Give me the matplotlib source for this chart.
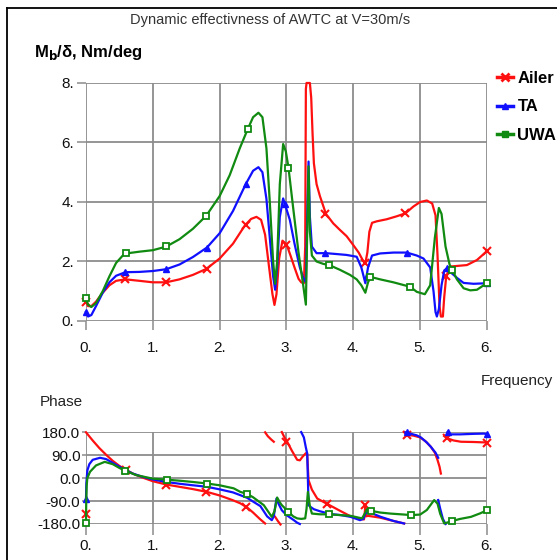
import numpy as np
import matplotlib.pyplot as plt
from matplotlib.lines import Line2D

plt.rcParams['font.family'] = ['Liberation Sans', 'DejaVu Sans']

nan = np.nan

# --- magnitude  Mb/delta  (Nm/deg) vs frequency ---
ailer_f = [0, 0.03, 0.08, 0.15, 0.25, 0.35, 0.45, 0.59, 0.8, 1.0, 1.2, 1.4, 1.6, 1.8, 2.0, 2.2,
           2.38, 2.47, 2.55, 2.62, 2.68, 2.74, 2.79, 2.82, 2.85, 2.89, 2.94, 3.0, 3.06, 3.12,
           3.18, 3.22, 3.26, 3.28, 3.29, 3.3, 3.35, 3.37, 3.39, 3.41, 3.45, 3.5, 3.59, 3.7,
           3.8, 3.9, 4.0, 4.08, 4.14, 4.18, 4.21, 4.24, 4.28, 4.35, 4.5, 4.65, 4.78, 4.9,
           5.0, 5.1, 5.18, 5.23, 5.26, 5.29, 5.31, 5.34, 5.36, 5.39, 5.45, 5.55, 5.7, 5.85, 6.0]
ailer_m = [0.65, 0.5, 0.5, 0.65, 0.95, 1.2, 1.35, 1.4, 1.35, 1.3, 1.3, 1.4, 1.55, 1.75, 2.1, 2.6,
           3.22, 3.43, 3.5, 3.4, 2.9, 1.8, 0.9, 0.54, 0.9, 2.1, 2.7, 2.58, 2.2, 1.8,
           1.42, 1.3, 1.27, 2.5, 7.8, 8.0, 8.0, 7.5, 6.3, 5.3, 4.6, 4.2, 3.6, 3.28,
           3.06, 2.85, 2.55, 2.3, 2.05, 1.94, 2.3, 3.0, 3.3, 3.35, 3.42, 3.52, 3.62, 3.85,
           4.0, 4.05, 3.95, 3.55, 2.2, 0.5, 0.15, 0.15, 0.8, 1.5, 1.83, 1.85, 1.88, 2.05, 2.35]

ta_f = [0, 0.03, 0.08, 0.15, 0.25, 0.35, 0.45, 0.59, 0.8, 1.0, 1.2, 1.4, 1.6, 1.81, 2.0, 2.2,
        2.39, 2.5, 2.58, 2.64, 2.7, 2.75, 2.8, 2.83, 2.86, 2.9, 2.95, 2.98, 3.05, 3.12, 3.2,
        3.25, 3.29, 3.31, 3.33, 3.35, 3.38, 3.45, 3.59, 3.75, 3.9, 4.05, 4.12, 4.18, 4.22,
        4.28, 4.4, 4.6, 4.8, 4.95, 5.05, 5.15, 5.2, 5.23, 5.25, 5.28, 5.32, 5.36, 5.4, 5.45,
        5.55, 5.65, 5.8, 6.0]
ta_m = [0.31, 0.15, 0.2, 0.5, 0.95, 1.3, 1.52, 1.64, 1.65, 1.68, 1.74, 1.9, 2.15, 2.47, 2.95, 3.7,
        4.6, 5.05, 5.17, 5.0, 4.1, 2.8, 1.5, 1.05, 1.8, 3.5, 4.12, 3.9, 3.4, 2.6, 1.8,
        1.45, 1.3, 3.5, 5.36, 3.5, 2.5, 2.28, 2.28, 2.25, 2.22, 2.16, 1.8, 1.27, 1.8,
        2.2, 2.27, 2.3, 2.3, 2.2, 2.1, 1.8, 1.0, 0.3, 0.15, 0.4, 1.2, 1.7, 1.77, 1.65,
        1.45, 1.28, 1.25, 1.27]

uwa_f = [0, 0.03, 0.08, 0.15, 0.25, 0.35, 0.45, 0.55, 0.6, 0.8, 1.0, 1.2, 1.4, 1.6, 1.8, 2.0,
         2.15, 2.3, 2.42, 2.5, 2.58, 2.64, 2.7, 2.75, 2.8, 2.83, 2.86, 2.9, 2.95, 2.99, 3.03,
         3.1, 3.18, 3.25, 3.29, 3.31, 3.33, 3.35, 3.38, 3.45, 3.55, 3.64, 3.8, 3.95, 4.05,
         4.12, 4.18, 4.22, 4.26, 4.4, 4.6, 4.85, 4.95, 5.07, 5.15, 5.22, 5.28, 5.32, 5.38,
         5.44, 5.48, 5.55, 5.65, 5.75, 5.85, 5.95, 6.0]
uwa_m = [0.75, 0.55, 0.47, 0.6, 1.0, 1.5, 1.95, 2.2, 2.27, 2.33, 2.38, 2.5, 2.75, 3.1, 3.54, 4.2,
         4.9, 5.8, 6.45, 6.85, 7.0, 6.85, 5.8, 4.0, 2.0, 1.25, 2.0, 4.6, 5.95, 5.7, 5.15,
         3.8, 2.3, 1.2, 0.55, 3.0, 5.2, 3.0, 2.2, 2.0, 1.92, 1.88, 1.72, 1.55, 1.4,
         1.2, 0.95, 1.3, 1.48, 1.4, 1.3, 1.15, 0.98, 0.9, 1.2, 2.8, 3.8, 3.6, 2.5,
         1.9, 1.72, 1.4, 1.1, 1.03, 1.05, 1.2, 1.29]

# marker points (magnitude)
ailer_mk_f = [0, 0.59, 1.2, 1.81, 2.39, 3.0, 3.58, 4.18, 4.78, 5.39, 6.0]
ailer_mk_m = [0.65, 1.4, 1.31, 1.75, 3.22, 2.55, 3.6, 1.94, 3.62, 1.51, 2.35]
ta_mk_f = [0, 0.59, 1.2, 1.81, 2.39, 2.98, 3.58, 4.2, 4.8, 5.4, 6.0]
ta_mk_m = [0.31, 1.64, 1.74, 2.47, 4.6, 3.92, 2.28, 1.5, 2.3, 1.77, 1.27]
uwa_mk_f = [0, 0.6, 1.2, 1.8, 2.42, 3.03, 3.64, 4.25, 4.85, 5.47, 6.0]
uwa_mk_m = [0.77, 2.28, 2.52, 3.54, 6.45, 5.15, 1.88, 1.49, 1.15, 1.71, 1.29]

# --- phase (deg), nan breaks the wrapped segments ---
ailer_pf = [0, 0.1, 0.2, 0.3, 0.4, 0.5, 0.585, 0.7, 0.85, 1.0, 1.2, 1.4, 1.6, 1.81, 2.0, 2.2,
            2.31, 2.41, 2.5, 2.6, 2.68, nan,
            2.68, 2.72, 2.77, 2.81, nan,
            2.83, 2.87, 2.91, nan,
            2.93, 2.97, 3.01, 3.08, 3.16, 3.2, 3.24, 3.29, 3.31, 3.32, 3.33, 3.38, 3.46, 3.6,
            3.8, 3.96, 4.1, 4.16, 4.17, 4.18, 4.19, 4.22, 4.4, 4.6, 4.76, nan,
            4.76, 4.8, 4.9, 5.0, 5.08, 5.16, 5.22, 5.26, 5.29, 5.31, nan,
            5.36, 5.4, 5.5, 5.61, 5.8, 6.0]
ailer_p = [180, 148, 118, 92, 68, 48, 35, 18, 2, -12, -25, -34, -43, -54, -68, -87,
           -99, -115, -135, -160, -178, nan,
           180, 165, 152, 143, nan,
           -152, -168, -182, nan,
           181, 160, 143, 108, 72, 70, 84, 98, 95, 40, -8, -45, -80, -100,
           -128, -150, -160, -162, -140, -106, -150, -148, -155, -168, -178, nan,
           181, 170, 167, 160, 145, 123, 100, 71, 45, 18, nan,
           165, 157, 148, 143, 142, 140]

ta_pf = [0, 0.005, 0.02, 0.05, 0.1, 0.21, 0.3, 0.4, 0.5, 0.585, 0.7, 0.85, 1.0, 1.2, 1.4, 1.6,
         1.81, 2.0, 2.2, 2.41, 2.5, 2.61, 2.71, 2.78, 2.81, 2.85, 2.88, 2.93, 3.0, 3.11, 3.16,
         3.2, nan,
         3.22, 3.26, 3.29, 3.31, 3.32, 3.33, 3.37, 3.41, 3.5, 3.66, 3.81, 3.96, 4.1, 4.15, 4.18,
         4.22, 4.25, 4.41, 4.6, 4.76, nan,
         4.78, 4.85, 4.95, 5.01, 5.1, 5.16, 5.23, 5.27, nan,
         5.27, 5.3, 5.34, 5.38, nan,
         5.41, 5.45, 5.6, 5.8, 5.96, 6.0]
ta_p = [-80, -20, 30, 55, 72, 80, 75, 60, 45, 33, 18, 5, -5, -15, -22, -28,
        -34, -44, -56, -77, -92, -110, -150, -165, -150, -80, -100, -126, -145, -165, -175,
        -180, nan,
        181, 160, 120, 97, 0, -106, -115, -122, -130, -141, -145, -152, -165, -160, -139,
        -133, -135, -152, -168, -178, nan,
        180, 175, 168, 160, 140, 123, 100, 80, nan,
        -86, -120, -160, -180, nan,
        181, 172, 172, 174, 175, 172]

uwa_pf = [0, 0.003, 0.01, 0.02, 0.06, 0.15, 0.28, 0.4, 0.5, 0.59, 0.75, 1.0, 1.21, 1.4, 1.6,
          1.81, 2.0, 2.21, 2.31, 2.41, 2.5, 2.66, 2.78, 2.82, 2.86, 2.9, 2.93, 3.03, 3.1,
          3.16, 3.22, 3.28, 3.3, 3.32, 3.35, 3.38, 3.5, 3.63, 3.8, 3.96, 4.13, 4.18, 4.2,
          4.26, 4.4, 4.55, 4.87, 5.0, 5.1, 5.21, 5.26, 5.3, 5.36, 5.48, 5.6, 5.76, 5.9, 6.0]
uwa_p = [-178, -100, -30, 0, 25, 50, 64, 55, 40, 29, 12, -2, -6, -10, -15,
         -21, -28, -40, -54, -62, -75, -106, -152, -130, -76, -95, -106, -132, -150,
         -158, -160, -158, -120, -54, -110, -139, -142, -142, -145, -148, -158, -135, -123,
         -128, -135, -139, -145, -143, -125, -86, -100, -140, -178, -168, -160, -152, -138, -126]

# marker points (phase)
ailer_pmk_f = [0, 0.6, 1.2, 1.8, 2.4, 3.0, 3.6, 4.18, 4.8, 5.4, 6.0]
ailer_pmk_p = [-139, 33, -27, -54, -115, 143, -100, -106, 170, 157, 140]
ta_pmk_f = [0, 4.8, 5.41, 6.0]
ta_pmk_p = [-80, 180, 181, 175]
uwa_pmk_f = [0, 0.59, 1.21, 1.81, 2.41, 3.03, 3.63, 4.26, 4.87, 5.48, 6.0]
uwa_pmk_p = [-178, 29, -6, -21, -62, -132, -142, -128, -145, -168, -126]

RED, BLUE, GREEN = '#ff1010', '#1010ff', '#108a10'
GRID = '#8c8c8c'

fig = plt.figure(figsize=(5.57, 5.6), dpi=100)

# grafik magnitudo
ax = fig.add_axes([0.1544, 0.4268, 0.7199, 0.425])
ax.plot(ailer_f, ailer_m, color=RED, lw=1.6, clip_on=False)
ax.plot(ailer_mk_f, ailer_mk_m, ls='none', marker='x', ms=6, mew=1.5, color=RED, clip_on=False)
ax.plot(ta_f, ta_m, color=BLUE, lw=1.6, clip_on=False)
ax.plot(ta_mk_f, ta_mk_m, ls='none', marker='^', ms=5, color=BLUE, clip_on=False)
ax.plot(uwa_f, uwa_m, color=GREEN, lw=1.6, clip_on=False)
ax.plot(uwa_mk_f, uwa_mk_m, ls='none', marker='s', ms=5, mfc='white', mec=GREEN, mew=1.3,
        color=GREEN, clip_on=False)
ax.set_xlim(0, 6)
ax.set_ylim(0, 8)
ax.set_xticks(range(7))
ax.set_xticklabels([f'{i}.' for i in range(7)])
ax.set_yticks([0, 2, 4, 6, 8])
ax.set_yticklabels(['0.', '2.', '4.', '6.', '8.'])
ax.grid(True, color=GRID, lw=1.3)
ax.set_axisbelow(True)
for s in ax.spines.values():
    s.set_visible(False)
ax.tick_params(axis='both', direction='out', length=6.5, width=1.1, color=GRID, labelsize=11,
               labelcolor='#111111')
ax.tick_params(axis='x', pad=8)
ax.tick_params(axis='y', pad=2)

# grafik fase
ax2 = fig.add_axes([0.1544, 0.0643, 0.7199, 0.1637])
ax2.plot(ailer_pf, ailer_p, color=RED, lw=1.6, clip_on=False)
ax2.plot(ailer_pmk_f, ailer_pmk_p, ls='none', marker='x', ms=6, mew=1.5, color=RED, clip_on=False)
ax2.plot(ta_pf, ta_p, color=BLUE, lw=1.6, clip_on=False)
ax2.plot(ta_pmk_f, ta_pmk_p, ls='none', marker='^', ms=5, color=BLUE, clip_on=False)
ax2.plot(uwa_pf, uwa_p, color=GREEN, lw=1.6, clip_on=False)
ax2.plot(uwa_pmk_f, uwa_pmk_p, ls='none', marker='s', ms=5, mfc='white', mec=GREEN, mew=1.3,
         clip_on=False)
ax2.set_xlim(0, 6)
ax2.set_ylim(-180, 180)
ax2.set_xticks(range(7))
ax2.set_xticklabels([f'{i}.' for i in range(7)])
ax2.set_yticks([180, 90, 0, -90, -180])
ax2.set_yticklabels(['180.0', '90.0', '0.0', '-90.0', '-180.0'])
ax2.grid(True, color=GRID, lw=1.3)
ax2.set_axisbelow(True)
for s in ax2.spines.values():
    s.set_visible(False)
ax2.tick_params(axis='both', direction='out', width=1.1, color=GRID, labelsize=11,
                labelcolor='#111111')
ax2.tick_params(axis='x', length=8, pad=3)
ax2.tick_params(axis='y', length=3, pad=1)

# teks
fig.text(270 / 557, 1 - 20 / 560, 'Dynamic effectivness of AWTC at V=30m/s', ha='center',
         va='center', fontsize=10.5, color='#333333')
fig.text(34 / 557, 1 - 52 / 560, r'M$_\mathbf{b}$/δ, Nm/deg', ha='left', va='center',
         fontsize=12, fontweight='bold')
fig.text(517 / 557, 1 - 381 / 560, 'Frequency', ha='center', va='center', fontsize=11,
         color='#222222')
fig.text(40 / 557, 1 - 402 / 560, 'Phase', ha='left', va='center', fontsize=11, color='#222222')

handles = [Line2D([], [], color=RED, lw=2.5, marker='x', ms=6, mew=2),
           Line2D([], [], color=BLUE, lw=2.5, marker='^', ms=5),
           Line2D([], [], color=GREEN, lw=2.5, marker='s', ms=5)]
leg = fig.legend(handles, ['Ailer', 'TA', 'UWA'], loc='upper left',
                 bbox_to_anchor=(490 / 557, 1 - 64 / 560), frameon=False,
                 prop={'weight': 'bold', 'size': 12}, handlelength=1.0, handletextpad=0.25,
                 labelspacing=0.82, borderaxespad=0)

# bingkai
fig.add_artist(Line2D([7 / 557, 7 / 557], [0, 1 - 8 / 560], color='black', lw=1.3))
fig.add_artist(Line2D([7 / 557, 1], [1 - 8 / 560, 1 - 8 / 560], color='black', lw=1.3))

fig.savefig('out.png', dpi=100)
